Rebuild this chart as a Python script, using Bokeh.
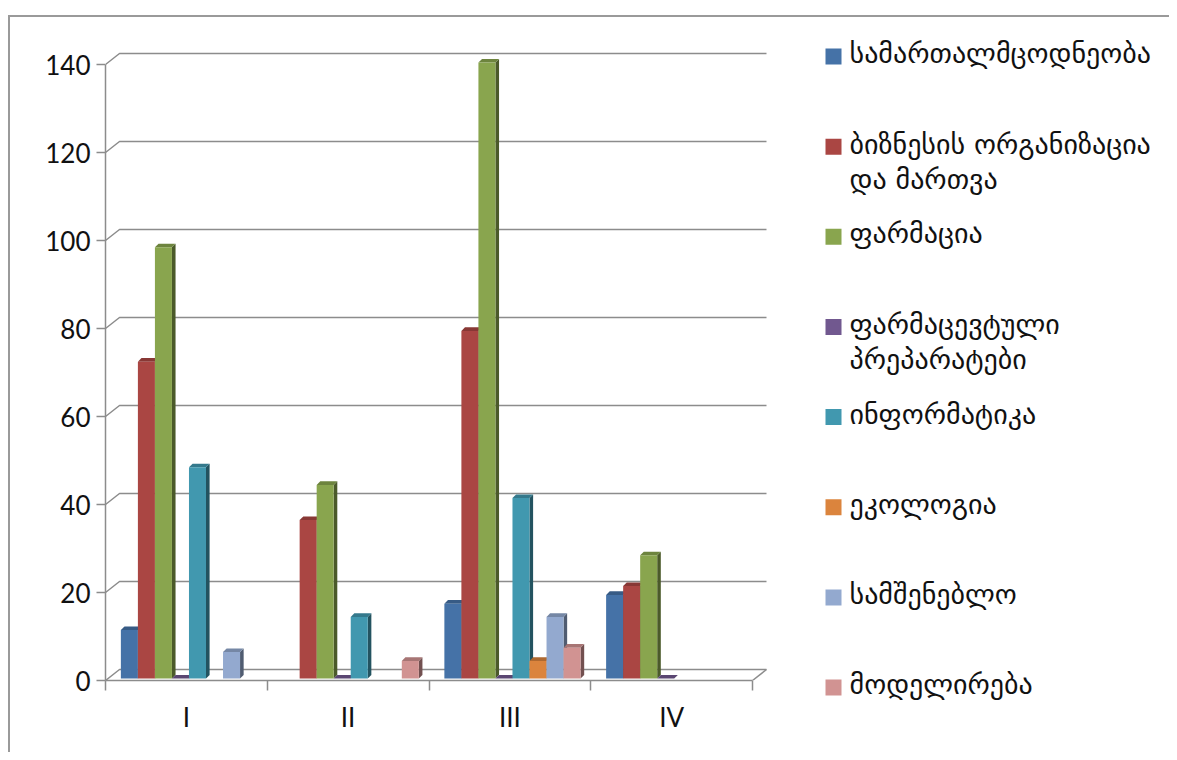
from bokeh.plotting import figure
from bokeh.models import Range1d, FixedTicker, ColumnDataSource
from bokeh.layouts import row
from bokeh.embed import file_html
from bokeh.resources import INLINE
from bokeh.core.properties import value

# ---------------- data ----------------
categories = ["I", "II", "III", "IV"]
series_names = [
    "სამართალმცოდნეობა",
    "ბიზნესის ორგანიზაცია\nდა მართვა",
    "ფარმაცია",
    "ფარმაცევტული\nპრეპარატები",
    "ინფორმატიკა",
    "ეკოლოგია",
    "სამშენებლო",
    "მოდელირება",
]
samartali = [11, None, 17, 19]
biznesi = [72, 36, 79, 21]
farmacia = [98, 44, 140, 28]
farm_preparatebi = [0, 0, 0, 0]
informatika = [48, 14, 41, None]
ekologia = [None, None, 4, None]
samsheneblo = [6, None, 14, None]
modelireba = [None, 4, 7, None]
series_values = [samartali, biznesi, farmacia, farm_preparatebi,
                 informatika, ekologia, samsheneblo, modelireba]
y_ticks = [0, 20, 40, 60, 80, 100, 120, 140]

colors = ["#4572A7", "#AA4643", "#89A54E", "#71588F",
          "#4198AF", "#DB843D", "#93A9CF", "#D19392"]

# ---------------- geometry (page pixels) ----------------
H = 735
CANVAS_X0, CANVAS_Y0 = 10, 17          # page position of canvas origin
SPLIT_X = 800                          # page x where legend panel begins
RIGHT_X = 1169                         # page x of right edge
AX_LEFT = 105                          # page x of y-axis
AX_BOTTOM = 680                        # page y of x-axis
FRAME_TOP = 22                         # page y of frame top
PX_CAT = 161.75                        # px per category
PX_UNIT = 4.4                          # px per value unit

def sx(px):
    return px / PX_CAT

def sy(px):
    return px / PX_UNIT

W1 = SPLIT_X - CANVAS_X0
W2 = RIGHT_X - SPLIT_X
frame_w = SPLIT_X - AX_LEFT
frame_h = AX_BOTTOM - FRAME_TOP

p = figure(width=W1, height=H, output_backend="svg", toolbar_location=None,
           x_range=Range1d(0, frame_w / PX_CAT), y_range=Range1d(0, frame_h / PX_UNIT),
           min_border_left=AX_LEFT - CANVAS_X0, min_border_right=0,
           min_border_top=FRAME_TOP - CANVAS_Y0,
           min_border_bottom=(CANVAS_Y0 + H) - AX_BOTTOM,
           title=None)
p.frame_align = False
p.outline_line_color = None
p.background_fill_color = "white"
p.border_fill_color = "white"
p.xgrid.visible = False
p.ygrid.visible = False

GRID = "#8c8c8c"
ncat = len(categories)
depth_x, depth_y = sx(14), sy(11)

# ---------------- walls / gridlines ----------------
gx, gy = [], []
for t in y_ticks:
    gx.append([0, depth_x, ncat + depth_x])
    gy.append([t, t + depth_y, t + depth_y])
gx.append([ncat, ncat + depth_x])
gy.append([0, depth_y])
p.multi_line(gx, gy, line_color=GRID, line_width=1.5)

# ---------------- 3D bars ----------------
def shade(hexc, f):
    r, g, b = int(hexc[1:3], 16), int(hexc[3:5], 16), int(hexc[5:7], 16)
    return "#%02x%02x%02x" % (int(r * f), int(g * f), int(b * f))

nser = len(series_values)
slot = 1.0 / (nser + 1.5)
off_x, off_y = sx(2.6), sy(2)
bdx, bdy = sx(3.6), sy(3.6)

fronts = dict(xs=[], ys=[], c=[])
tops = dict(xs=[], ys=[], c=[])
sides = dict(xs=[], ys=[], c=[])
for ci in range(ncat):
    for si, vals in enumerate(series_values):
        v = vals[ci]
        if v is None:
            continue
        xl = ci + (0.75 + si) * slot + off_x
        xr = xl + slot
        yb = off_y
        yt = off_y + v
        fronts["xs"].append([xl, xr, xr, xl]); fronts["ys"].append([yb, yb, yt, yt])
        fronts["c"].append(colors[si])
        tops["xs"].append([xl, xr, xr + bdx, xl + bdx]); tops["ys"].append([yt, yt, yt + bdy, yt + bdy])
        tops["c"].append(shade(colors[si], 0.8))
        sides["xs"].append([xr, xr + bdx, xr + bdx, xr]); sides["ys"].append([yb, yb + bdy, yt + bdy, yt])
        sides["c"].append(shade(colors[si], 0.55))

for d in (sides, tops, fronts):
    p.patches("xs", "ys", source=ColumnDataSource(d), fill_color="c", line_color=None)

# ---------------- axes ----------------
yax = p.yaxis[0]
yax.ticker = FixedTicker(ticks=y_ticks, minor_ticks=[])
yax.bounds = (0, max(y_ticks))
yax.axis_line_color = GRID
yax.axis_line_width = 1.5
yax.major_tick_line_color = GRID
yax.major_tick_line_width = 1.5
yax.major_tick_out = 9
yax.major_tick_in = 0
yax.minor_tick_line_color = None
yax.major_label_standoff = 6
yax.major_label_text_font = "Lato"
yax.major_label_text_font_size = "26px"
yax.major_label_text_color = "#111111"

xax = p.xaxis[0]
centers = [i + 0.5 for i in range(ncat)]
xax.ticker = FixedTicker(ticks=centers, minor_ticks=list(range(ncat + 1)))
xax.major_label_overrides = {c: lab for c, lab in zip(centers, categories)}
xax.bounds = (0, ncat)
xax.axis_line_color = GRID
xax.axis_line_width = 1.5
xax.major_tick_line_color = None
xax.major_tick_out = 0
xax.major_tick_in = 0
xax.minor_tick_line_color = GRID
xax.minor_tick_line_width = 1.5
xax.minor_tick_out = 10
xax.minor_tick_in = 0
xax.major_label_standoff = 10
xax.major_label_text_font = "Lato"
xax.major_label_text_font_size = "26px"
xax.major_label_text_color = "#111111"

# ---------------- legend panel ----------------
leg = figure(width=W2, height=H, output_backend="svg", toolbar_location=None,
             x_range=Range1d(SPLIT_X, RIGHT_X), y_range=Range1d(CANVAS_Y0 + H, CANVAS_Y0),
             x_axis_type=None, y_axis_type=None, title=None,
             min_border_left=0, min_border_right=0, min_border_top=0, min_border_bottom=0)
leg.frame_align = False
leg.outline_line_color = None
leg.background_fill_color = "white"
leg.border_fill_color = "white"
leg.xgrid.visible = False
leg.ygrid.visible = False

LEG_SQ_X = 833
LEG_TXT_X = 849
LEG_ROW0 = 56
LEG_STEP = 90.15
LINE_GAP = 37
FS = 28
leg_x, leg_y, txt_y = [], [], []
for i, name in enumerate(series_names):
    yc = LEG_ROW0 + i * LEG_STEP
    leg_x.append(LEG_SQ_X)
    leg_y.append(yc)
    nlines = name.count("\n") + 1
    txt_y.append(yc - 3 + (nlines - 1) * LINE_GAP / 2)
leg.scatter(leg_x, leg_y, marker="square", size=16, fill_color=colors, line_color=None)
leg.text([LEG_TXT_X] * nser, txt_y, text=series_names,
         text_font=value("DejaVu Sans"), text_font_size="%dpx" % FS,
         text_baseline="middle", text_align="left", text_color="#111111",
         text_line_height=1.06)

layout = row(p, leg, spacing=0, margin=(15, 0, 0, 8),
             styles={"border-top": "2px solid #9a9a9a", "border-left": "2px solid #9a9a9a"})

open("out.html", "w").write(file_html(layout, INLINE))
